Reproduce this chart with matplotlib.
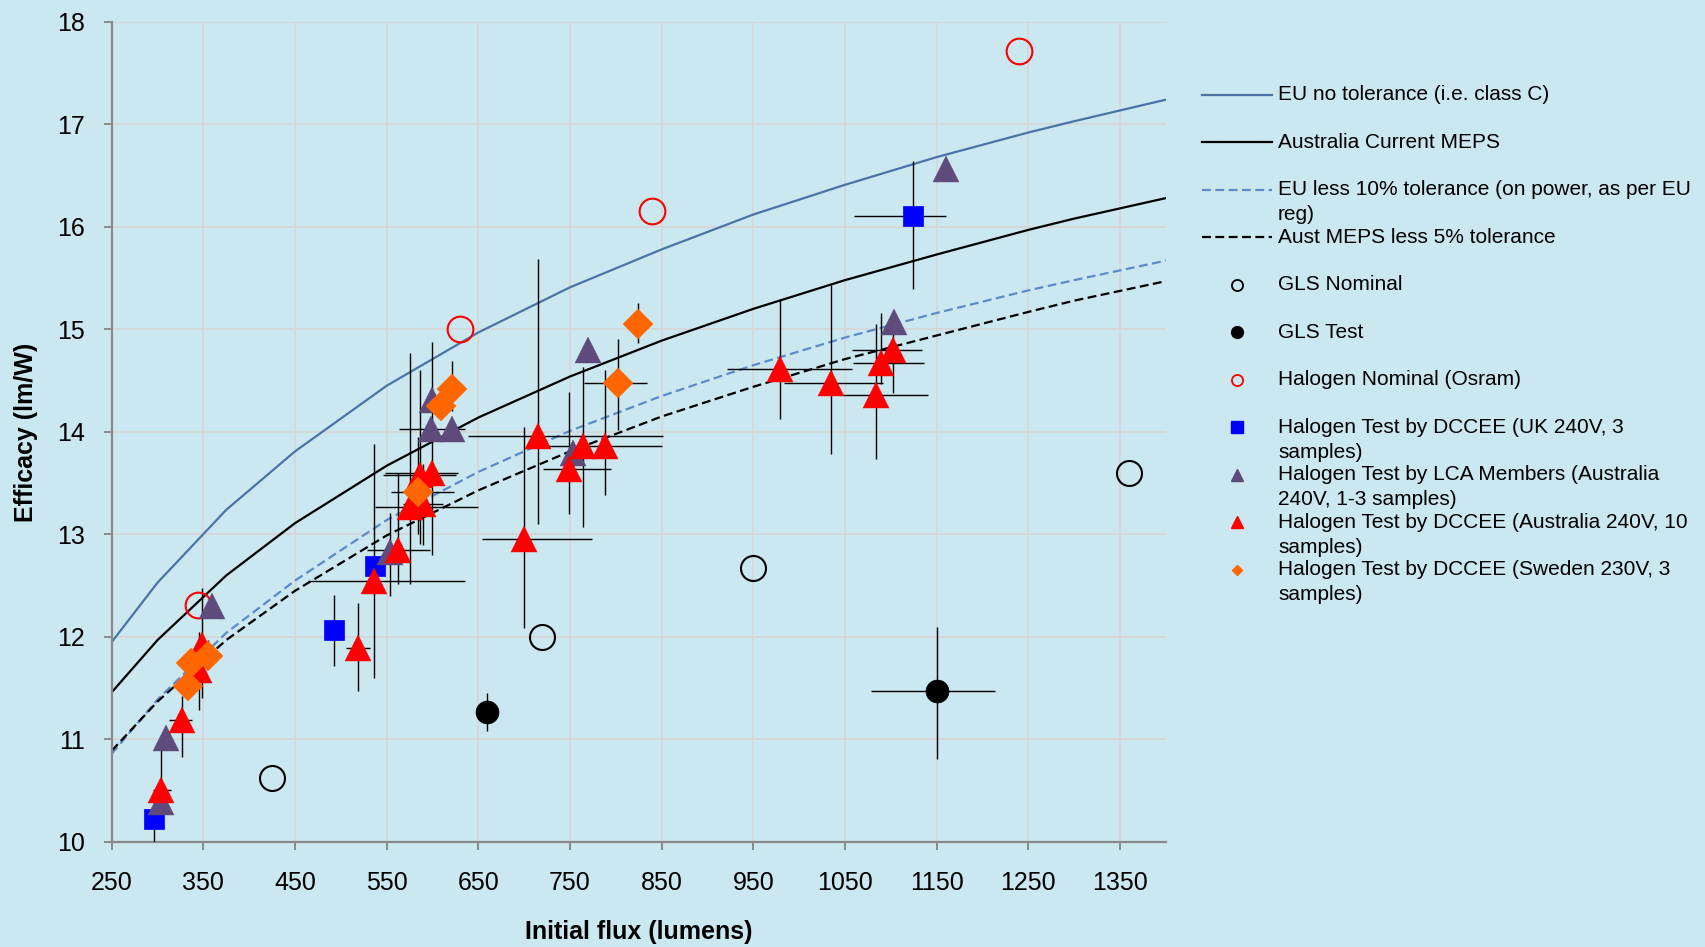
import numpy as np
import matplotlib.pyplot as plt
from matplotlib.lines import Line2D

plt.rcParams['font.family'] = ['Liberation Sans', 'DejaVu Sans']

nan = np.nan

# limit curves at these flux values (lumens -> lm/W)
curve_flux = [250, 300, 375, 450, 550, 650, 750, 850, 950, 1050, 1150, 1250, 1300, 1400]
eu_no_tol = [11.95, 12.53, 13.24, 13.81, 14.45, 14.97, 15.41, 15.78, 16.12, 16.41, 16.68, 16.92, 17.03, 17.24]
aus_meps = [11.46, 11.97, 12.60, 13.11, 13.67, 14.14, 14.54, 14.89, 15.20, 15.48, 15.73, 15.97, 16.08, 16.28]
eu_less10 = [10.86, 11.39, 12.04, 12.55, 13.14, 13.61, 14.01, 14.35, 14.65, 14.92, 15.16, 15.38, 15.48, 15.67]
aus_less5 = [10.89, 11.37, 11.97, 12.45, 12.99, 13.43, 13.81, 14.15, 14.44, 14.71, 14.94, 15.17, 15.28, 15.47]

# GLS nominal / test
gls_nom_flux = [425, 720, 950, 1360]
gls_nom_eff = [10.62, 12.00, 12.67, 13.60]

gls_test_flux = [659, 1151]
gls_test_eff = [11.27, 11.47]
gls_test_flux_lo = [nan, 1078]
gls_test_flux_hi = [nan, 1214]
gls_test_eff_lo = [11.08, 10.81]
gls_test_eff_hi = [11.45, 12.10]

# halogen nominal (Osram)
hal_nom_flux = [344, 630, 840, 1240]
hal_nom_eff = [12.31, 15.00, 16.15, 17.72]

# halogen test by DCCEE, UK 240V
uk_flux = [296, 492, 537, 1124]
uk_eff = [10.22, 12.07, 12.69, 16.11]
uk_flux_lo = [nan, nan, nan, 1060]
uk_flux_hi = [nan, nan, nan, 1160]
uk_eff_lo = [9.99, 11.72, nan, 15.39]
uk_eff_hi = [10.40, 12.41, nan, 16.64]

# halogen test by LCA members
lca_flux = [304, 309, 359, 554, 598, 599, 621, 753, 770, 1104, 1160]
lca_eff = [10.39, 11.01, 12.30, 12.83, 14.03, 14.31, 14.03, 13.79, 14.80, 15.07, 16.56]
lca_flux_lo = [nan, nan, nan, nan, 564, nan, nan, nan, nan, nan, nan]
lca_flux_hi = [nan, nan, nan, nan, 635, nan, nan, nan, nan, nan, nan]
lca_eff_lo = [nan, nan, nan, 12.40, nan, nan, nan, nan, nan, nan, nan]
lca_eff_hi = [nan, nan, nan, 13.21, nan, nan, nan, nan, nan, nan, nan]

# halogen test by DCCEE, Australia 240V
aus_flux = [304, 327, 345, 348, 519, 536, 562, 575, 586, 590, 599, 700, 715, 749, 764, 788, 979, 1035, 1084, 1089, 1102]
aus_eff = [10.51, 11.19, 11.68, 11.92, 11.89, 12.55, 12.85, 13.27, 13.58, 13.30, 13.60, 12.96, 13.96, 13.64, 13.86, 13.86, 14.61, 14.48, 14.36, 14.67, 14.80]
aus_flux_lo = [295, 313, nan, nan, 506, 464, 528, 537, 546, 568, 548, 654, 639, 721, 719, nan, 921, 983, 1048, 1059, 1058]
aus_flux_hi = [315, 338, nan, nan, 532, 636, 597, 650, 626, 611, 628, 774, 851, 795, 850, nan, 1058, 1092, 1141, 1136, 1134]
aus_eff_lo = [10.35, 10.83, 11.29, 11.40, 11.47, 11.60, 12.52, 12.52, 12.91, 12.90, 12.80, 12.09, 13.10, 13.20, 13.07, 13.38, 14.13, 13.78, 13.74, 14.47, 14.38]
aus_eff_hi = [10.90, 11.42, 12.05, 12.48, 12.33, 13.88, 13.60, 14.77, 14.60, 13.69, 14.88, 14.05, 15.69, 14.39, 14.63, 14.60, 15.30, 15.43, 15.05, 15.16, 15.15]

# halogen test by DCCEE, Sweden 230V
swe_flux = [333, 336, 355, 584, 609, 621, 802, 824]
swe_eff = [11.52, 11.75, 11.81, 13.41, 14.25, 14.42, 14.48, 15.05]
swe_flux_lo = [nan, nan, nan, 555, nan, nan, 765, nan]
swe_flux_hi = [nan, nan, nan, 623, nan, nan, 834, nan]
swe_eff_lo = [nan, nan, 11.70, 13.00, nan, 14.20, 14.02, 14.87]
swe_eff_hi = [nan, nan, 11.97, 13.95, nan, 14.69, 14.91, 15.26]

bg = '#CBE7EF'
eu_blue = '#4A74A8'
eu_dash = '#5B8BCB'
purple = '#5F4A7C'
orange = '#FF6600'

fig = plt.figure(figsize=(17.06, 9.47), dpi=100, facecolor=bg)
ax = fig.add_axes([0.06548, 0.11088, 0.61782, 0.86610])
ax.set_facecolor(bg)


def ranges(x, y, xlo, xhi, ylo, yhi):
    # min/max error bars, only where a range was read
    x, y = np.array(x, float), np.array(y, float)
    xlo, xhi = np.array(xlo, float), np.array(xhi, float)
    ylo, yhi = np.array(ylo, float), np.array(yhi, float)
    m = ~np.isnan(ylo)
    ax.vlines(x[m], ylo[m], yhi[m], color='black', lw=1.0, zorder=3)
    m = ~np.isnan(xlo)
    ax.hlines(y[m], xlo[m], xhi[m], color='black', lw=1.0, zorder=3)


ax.plot(curve_flux, eu_no_tol, color=eu_blue, lw=1.6, zorder=2)
ax.plot(curve_flux, aus_meps, color='black', lw=1.6, zorder=2)
ax.plot(curve_flux, eu_less10, color=eu_dash, lw=1.6, ls=(0, (4, 2)), zorder=2)
ax.plot(curve_flux, aus_less5, color='black', lw=1.6, ls=(0, (4, 2)), zorder=2)

ranges(gls_test_flux, gls_test_eff, gls_test_flux_lo, gls_test_flux_hi, gls_test_eff_lo, gls_test_eff_hi)
ranges(uk_flux, uk_eff, uk_flux_lo, uk_flux_hi, uk_eff_lo, uk_eff_hi)
ranges(lca_flux, lca_eff, lca_flux_lo, lca_flux_hi, lca_eff_lo, lca_eff_hi)
ranges(aus_flux, aus_eff, aus_flux_lo, aus_flux_hi, aus_eff_lo, aus_eff_hi)
ranges(swe_flux, swe_eff, swe_flux_lo, swe_flux_hi, swe_eff_lo, swe_eff_hi)

ax.plot(gls_nom_flux, gls_nom_eff, ls='none', marker='o', ms=18, mfc='none', mec='black', mew=1.5, zorder=4)
ax.plot(gls_test_flux, gls_test_eff, ls='none', marker='o', ms=16.5, mfc='black', mec='black', mew=0.5, zorder=4)
ax.plot(hal_nom_flux, hal_nom_eff, ls='none', marker='o', ms=18.5, mfc='none', mec='red', mew=1.5, zorder=4)
ax.plot(uk_flux, uk_eff, ls='none', marker='s', ms=15, mfc='#0000FF', mec='#0000FF', mew=0.5, zorder=5)
ax.plot(lca_flux, lca_eff, ls='none', marker='^', ms=19, mfc=purple, mec=purple, mew=0.3, zorder=6)
ax.plot(aus_flux, aus_eff, ls='none', marker='^', ms=19, mfc='red', mec='red', mew=0.3, zorder=7)
ax.plot(swe_flux, swe_eff, ls='none', marker='D', ms=15, mfc=orange, mec=orange, mew=0.3, zorder=8)

ax.set_xlim(250, 1400)
ax.set_ylim(10, 18)
ax.set_xticks(np.arange(250, 1351, 100))
ax.set_yticks(np.arange(10, 19, 1))
ax.grid(True, color='#D6D6D6', lw=1.2)
ax.set_axisbelow(True)
for s in ['top', 'right']:
    ax.spines[s].set_visible(False)
for s in ['left', 'bottom']:
    ax.spines[s].set_color('#8A8A8A')
    ax.spines[s].set_linewidth(1.6)
ax.tick_params(direction='out', length=6, width=1.4, color='#8A8A8A', labelsize=18)
ax.tick_params(axis='x', pad=15)
ax.tick_params(axis='y', pad=13)

ax.set_xlabel('Initial flux (lumens)', fontsize=18, fontweight='bold', va='center')
ax.xaxis.set_label_coords(0.5, -0.1097)
ax.set_ylabel('Efficacy (lm/W)', fontsize=18, fontweight='bold', va='center', ha='center')
ax.yaxis.set_label_coords(-0.0815, 0.5)

# legend drawn by hand to keep Excel's fixed row spacing with wrapped labels
W, H = 1706.0, 947.0
legend_rows = [
    (dict(color=eu_blue, lw=1.6), ['EU no tolerance (i.e. class C)']),
    (dict(color='black', lw=1.6), ['Australia Current MEPS']),
    (dict(color=eu_dash, lw=1.6, ls=(0, (4, 2))), ['EU less 10% tolerance (on power, as per EU', 'reg)']),
    (dict(color='black', lw=1.6, ls=(0, (4, 2))), ['Aust MEPS less 5% tolerance']),
    (dict(marker='o', ms=8, mfc='none', mec='black', mew=1.3), ['GLS Nominal']),
    (dict(marker='o', ms=8.5, mfc='black', mec='black'), ['GLS Test']),
    (dict(marker='o', ms=8, mfc='none', mec='red', mew=1.3), ['Halogen Nominal (Osram)']),
    (dict(marker='s', ms=8, mfc='#0000FF', mec='#0000FF'), ['Halogen Test by DCCEE (UK 240V, 3', 'samples)']),
    (dict(marker='^', ms=8.5, mfc=purple, mec=purple), ['Halogen Test by LCA Members (Australia', '240V, 1-3 samples)']),
    (dict(marker='^', ms=8.5, mfc='red', mec='red'), ['Halogen Test by DCCEE (Australia 240V, 10', 'samples)']),
    (dict(marker='D', ms=5.5, mfc=orange, mec=orange), ['Halogen Test by DCCEE (Sweden 230V, 3', 'samples)']),
]
for i, (style, lines) in enumerate(legend_rows):
    py = 94.7 + 47.5 * i
    fy = 1 - py / H
    if 'marker' in style:
        h = Line2D([1237 / W], [fy], ls='none', transform=fig.transFigure, **style)
    else:
        h = Line2D([1202 / W, 1272 / W], [fy, fy], transform=fig.transFigure, **style)
    fig.add_artist(h)
    for j, t in enumerate(lines):
        fig.text(1278 / W, 1 - (py + 25 * j) / H, t, fontsize=15, va='center', ha='left')

fig.savefig('out.png', dpi=100, facecolor=bg)
